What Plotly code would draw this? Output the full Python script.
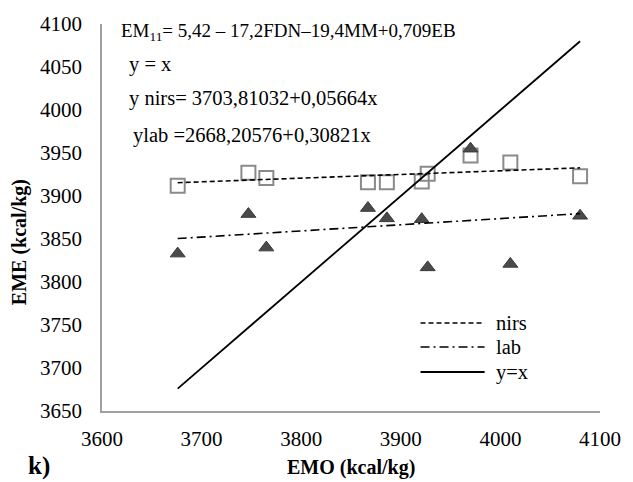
import numpy as np
import plotly.graph_objects as go

# ---- data ----
emo = [3676, 3747, 3765, 3867, 3886, 3921, 3927, 3970, 4010, 4080]
eme_nirs = [3912, 3927, 3921, 3916, 3916, 3917, 3926, 3947, 3939, 3923]
eme_lab = [3833, 3879, 3840, 3886, 3874, 3873, 3817, 3955, 3821, 3877]

x_range = [3600, 4100]
y_range = [3650, 4100]
x_dtick = 100
y_dtick = 50

equations = [
    "EM<sub>11</sub>= 5,42 – 17,2FDN–19,4MM+0,709EB",
    "y = x",
    "y nirs= 3703,81032+0,05664x",
    "ylab =2668,20576+0,30821x",
]
legend_names = ["nirs", "lab", "y=x"]
x_title = "EMO (kcal/kg)"
y_title = "EME (kcal/kg)"
panel_label = "k)"

FONT = "Liberation Serif"

# ---- fits computed from data ----
xa = np.array(emo, dtype=float)
xs = np.array([xa.min(), xa.max()])
pn = np.polyfit(xa, eme_nirs, 1)
pl = np.polyfit(xa, eme_lab, 1)

fig = go.Figure()
fig.add_trace(go.Scatter(x=emo, y=eme_nirs, mode="markers",
                         marker=dict(symbol="square-open", size=14, color="#8a8a8a",
                                     line=dict(width=2, color="#8a8a8a")),
                         showlegend=False, hoverinfo="skip"))
fig.add_trace(go.Scatter(x=emo, y=eme_lab, mode="markers",
                         marker=dict(symbol="triangle-up", size=13, color="#4a4a4a",
                                     line=dict(width=1, color="#3a3a3a")),
                         showlegend=False, hoverinfo="skip"))

line_styles = [
    dict(color="black", width=1.6, dash="5px,3px"),
    dict(color="black", width=1.6, dash="9px,4px,2px,4px"),
    dict(color="black", width=1.8, dash="solid"),
]
fig.add_trace(go.Scatter(x=xs, y=np.polyval(pn, xs), mode="lines",
                         line=line_styles[0], name=legend_names[0], showlegend=False))
fig.add_trace(go.Scatter(x=xs, y=np.polyval(pl, xs), mode="lines",
                         line=line_styles[1], name=legend_names[1], showlegend=False))
fig.add_trace(go.Scatter(x=xs, y=xs, mode="lines",
                         line=line_styles[2], name=legend_names[2], showlegend=False))

# ---- layout in pixels -> paper ----
L, R, T, B = 102, 607, 24, 411
W, H = 633, 482
def px(x):
    return (x - L) / (R - L)
def py(y):
    return (B - y) / (B - T)

annotations = []
eq_pos = [(119, 32), (127, 64), (127, 98), (131, 135)]
eq_size = [19, 20.5, 20.5, 20.5]
for txt, (ex, ey), fs in zip(equations, eq_pos, eq_size):
    annotations.append(dict(text=txt, x=px(ex), y=py(ey), xref="paper", yref="paper",
                            xanchor="left", yanchor="middle", showarrow=False,
                            font=dict(family=FONT, size=fs, color="black")))

shapes = []
leg_rows = [323, 347, 372]
for name, style, ry in zip(legend_names, line_styles, leg_rows):
    shapes.append(dict(type="line", xref="paper", yref="paper",
                       x0=px(425), x1=px(490), y0=py(ry), y1=py(ry),
                       line=dict(color=style["color"], width=style["width"], dash=style["dash"])))
    annotations.append(dict(text=name, x=px(500), y=py(ry), xref="paper", yref="paper",
                            xanchor="left", yanchor="middle", showarrow=False,
                            font=dict(family=FONT, size=20.5, color="black")))

annotations.append(dict(text="<b>%s</b>" % x_title, x=0.5, y=py(467), xref="paper", yref="paper",
                        xanchor="center", yanchor="middle", showarrow=False,
                        font=dict(family=FONT, size=20, color="black")))
annotations.append(dict(text="<b>%s</b>" % y_title, x=px(18), y=py(242), xref="paper", yref="paper",
                        xanchor="center", yanchor="middle", showarrow=False, textangle=-90,
                        font=dict(family=FONT, size=20, color="black")))
annotations.append(dict(text="<b>%s</b>" % panel_label, x=px(38), y=py(466), xref="paper", yref="paper",
                        xanchor="center", yanchor="middle", showarrow=False,
                        font=dict(family=FONT, size=25, color="black")))

fig.update_layout(
    width=W, height=H,
    margin=dict(l=L, r=W - R, t=T, b=H - B),
    paper_bgcolor="white", plot_bgcolor="white",
    showlegend=False,
    annotations=annotations, shapes=shapes,
    font=dict(family=FONT, size=21, color="black"),
)
fig.update_xaxes(range=x_range, dtick=x_dtick, tick0=x_range[0], showgrid=False, zeroline=False,
                 showline=True, linecolor="#a0a0a0", linewidth=1.5, ticks="",
                 ticklabelstandoff=8, tickfont=dict(family=FONT, size=21, color="black"))
fig.update_yaxes(range=y_range, dtick=y_dtick, tick0=y_range[0], showgrid=False, zeroline=False,
                 showline=True, linecolor="#a0a0a0", linewidth=1.5, ticks="",
                 ticklabelstandoff=14, tickfont=dict(family=FONT, size=21, color="black"))

fig.write_html("out.html", config={"displayModeBar": False},
               post_script="document.body.style.margin='0px';document.body.style.overflow='hidden';")
